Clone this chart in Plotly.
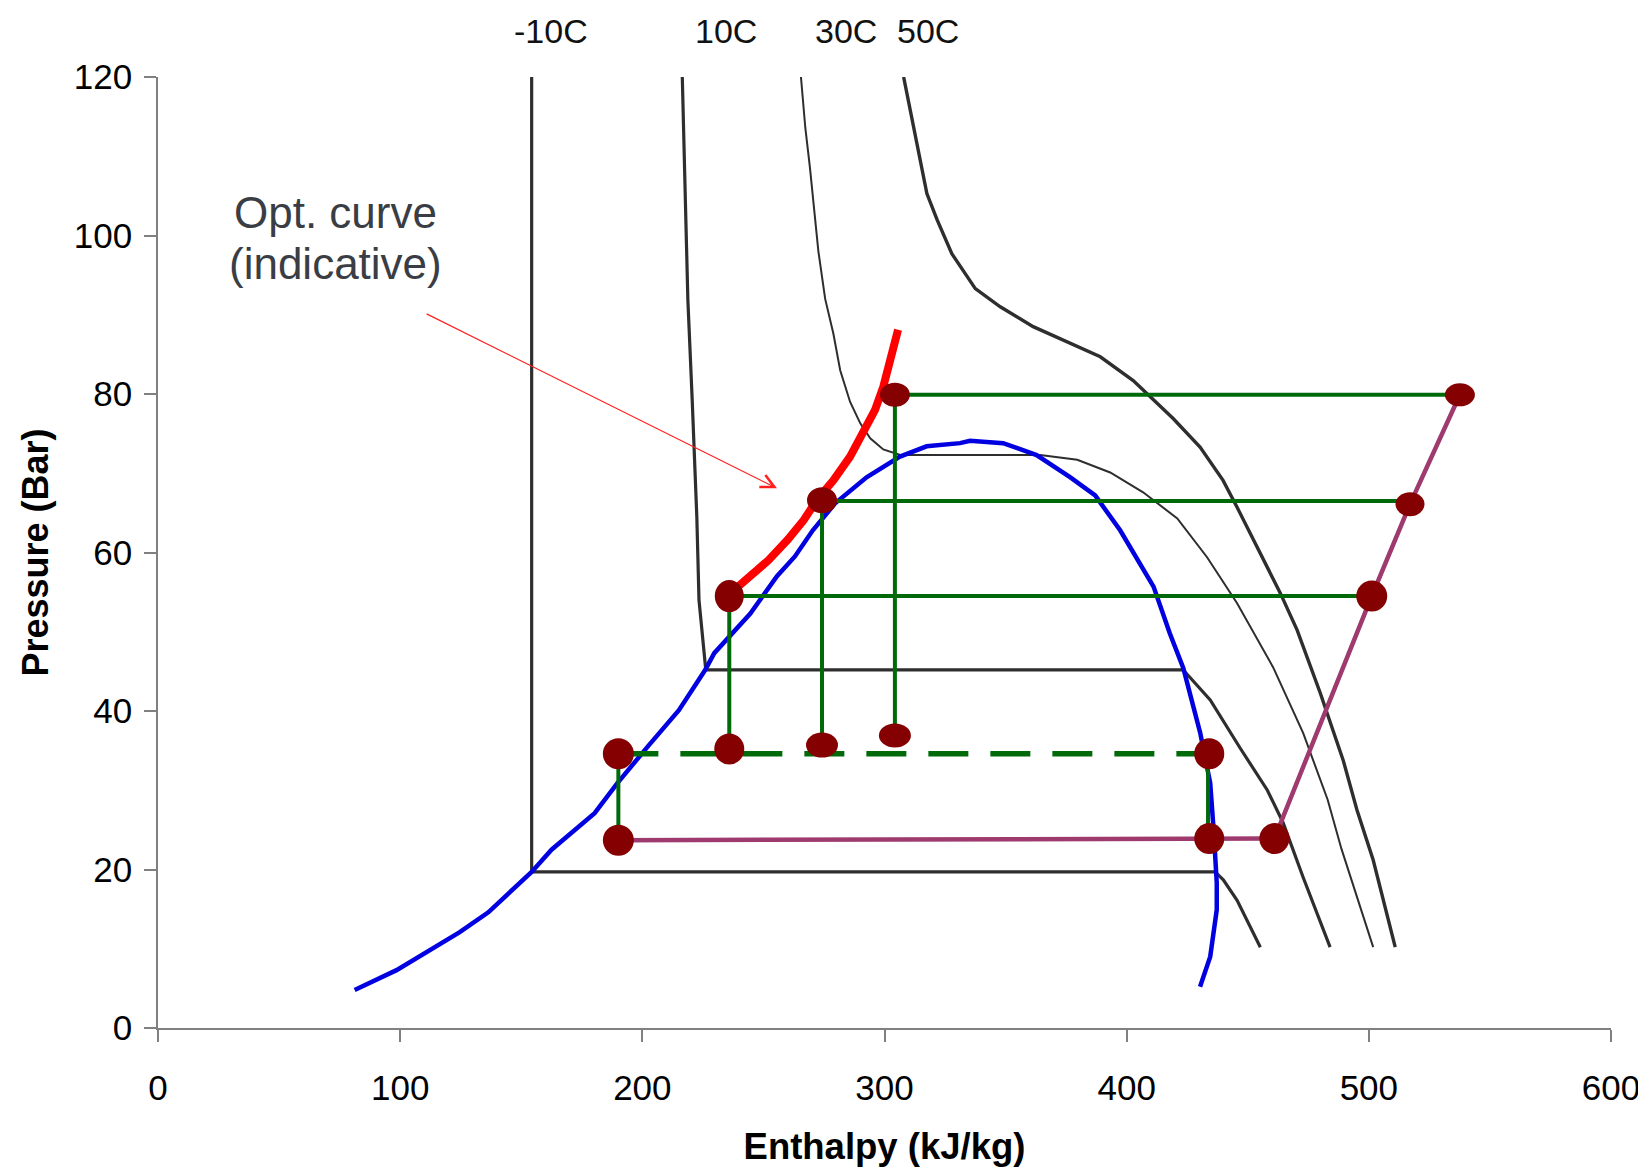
import plotly.graph_objects as go

# ---------------- data (enthalpy kJ/kg, pressure bar) ----------------
# isotherms
h_m10 = [154.3, 154.3, 436.5, 439.9, 445.6, 451.0, 453.0, 455.2]
p_m10 = [120.0, 19.7, 19.7, 18.7, 16.1, 12.7, 11.5, 10.2]

h_10 = [216.5, 218.8, 220.6, 222.5, 223.4, 226.2, 423.3, 434.5, 446.9, 458.1, 464.6, 472.9, 484.0]
p_10 = [120.0, 91.9, 79.2, 64.5, 54.0, 45.2, 45.2, 41.4, 35.3, 30.0, 25.9, 19.0, 10.2]

h_30 = [265.5, 267.3, 269.2, 272.7, 275.5, 278.9, 281.7, 285.8, 290.0, 294.1, 299.5, 306.5,
        364.3, 379.6, 393.2, 406.8, 420.9, 433.2, 445.6, 460.5, 472.9, 483.0, 488.7, 501.8]
p_30 = [120.0, 113.6, 108.6, 98.0, 92.0, 87.6, 83.0, 79.0, 76.3, 74.4, 73.0, 72.3,
        72.3, 71.7, 70.1, 67.6, 64.3, 59.4, 53.6, 45.5, 37.2, 28.8, 22.6, 10.2]

h_50 = [307.9, 312.0, 317.5, 321.7, 327.8, 337.5, 347.8, 361.4, 376.7, 389.1, 402.7, 419.2,
        430.3, 439.8, 445.6, 453.9, 463.4, 470.4, 479.9, 489.4, 495.1, 501.8, 510.9]
p_50 = [120.0, 113.7, 105.3, 102.0, 97.7, 93.3, 91.0, 88.5, 86.4, 84.7, 81.7, 76.9,
        73.3, 69.1, 65.7, 60.7, 54.9, 50.2, 42.3, 33.8, 27.5, 21.2, 10.2]

iso_labels = ["-10C", "10C", "30C", "50C"]
iso_label_h = [162.3, 234.5, 284.1, 318.0]

# saturation dome
h_sat = [81.2, 98.5, 124.6, 136.4, 154.3, 162.5, 180.3, 189.7, 202.2, 215.1, 226.0, 229.7,
         244.6, 255.6, 263.0, 270.4, 279.6, 292.6, 306.4, 317.4, 331.2, 335.3, 349.0, 362.8,
         376.6, 387.0, 397.3, 411.1, 417.8, 423.4, 430.4, 434.5, 436.0, 437.2, 437.2, 434.5, 430.3]
p_sat = [4.8, 7.3, 12.1, 14.6, 19.7, 22.5, 27.1, 30.9, 35.5, 40.1, 45.2, 47.3,
         52.3, 57.0, 59.5, 62.8, 66.2, 69.5, 72.1, 73.4, 73.8, 74.1, 73.8, 72.3,
         69.5, 67.2, 62.8, 55.7, 49.8, 45.4, 37.2, 30.9, 24.6, 18.3, 14.9, 9.0, 5.2]

# optimum high-pressure curve (indicative)
h_opt = [235.4, 244.0, 252.0, 260.0, 266.7, 272.0, 278.9, 285.8, 291.2, 296.1, 299.5, 302.3, 305.6]
p_opt = [54.6, 56.8, 59.0, 61.6, 64.1, 66.6, 69.1, 72.1, 75.0, 78.0, 80.9, 84.3, 88.1]

# cycles
p_gc = [79.9, 66.5, 54.5]            # gas-cooler pressures
h_gc_in = [537.6, 517.0, 501.2]      # compressor discharge
h_gc_out = [304.3, 274.2, 235.9]     # gas-cooler outlet
p_exp_end = [36.9, 35.7, 35.2]       # end of first expansion
p_mid = 34.6                         # intermediate (receiver) pressure
h_liq, h_vap = 190.1, 434.1          # receiver liquid / vapour
p_evap_l, p_evap_r = 23.7, 23.9      # evaporating pressure
h_suction = 461.0
h_comp = [461.0, 501.2, 517.0, 537.6]
p_comp = [23.9, 54.5, 66.1, 79.9]

# state points
dots_h = [304.3, 537.6, 274.2, 517.0, 235.9, 501.2, 190.1, 235.9, 274.2, 304.3, 434.1, 190.1, 434.1, 461.0]
dots_p = [79.9, 79.9, 66.6, 66.1, 54.5, 54.5, 34.6, 35.2, 35.7, 36.9, 34.6, 23.7, 23.9, 23.9]

# annotation text
note_lines = ["Opt. curve", "(indicative)"]
note_h = 73.5
note_p = [102.9, 96.5]
arrow_tail = (110.3, 90.2)
arrow_tip = (255.6, 68.1)

# ---------------- styles ----------------
dot_w = [30, 30, 30, 29, 29, 31, 31, 30, 32, 32, 30, 31, 30, 30]
dot_hgt = [24, 23, 26, 24, 32, 31, 31, 31, 25, 24, 31, 31, 31, 31]
ISO = "#2E2E2E"
GREEN = "#006A0A"
PURPLE = "#9E3A6E"
BLUE = "#0000E0"
RED = "#FF0000"
DOT = "#850000"
AX = "#808080"
FONT = "Liberation Sans, Arial, Helvetica, sans-serif"

fig = go.Figure()


def add_line(x, y, color, width, dash=None):
    fig.add_trace(go.Scatter(x=x, y=y, mode="lines",
                             line=dict(color=color, width=width, dash=dash),
                             hoverinfo="skip", showlegend=False))


# isotherms
add_line(h_m10, p_m10, ISO, 3.2)
add_line(h_10, p_10, ISO, 3.2)
add_line(h_30, p_30, ISO, 2.0)
add_line(h_50, p_50, ISO, 3.4)

# saturation dome
add_line(h_sat, p_sat, BLUE, 4.5)

# green gas cooler lines and expansion lines
gx, gy = [], []
for hin, hout, p in zip(h_gc_in, h_gc_out, p_gc):
    gx += [hout, hin, None]
    gy += [p, p, None]
for hout, p, pe in zip(h_gc_out, p_gc, p_exp_end):
    gx += [hout, hout, None]
    gy += [p, pe, None]
gx += [h_liq, h_liq, None, h_vap - 0.5, h_vap - 0.5]
gy += [p_mid, p_evap_l, None, p_mid, p_evap_r]
add_line(gx, gy, GREEN, 4)

# dashed intermediate pressure line
add_line([h_liq, h_vap], [p_mid, p_mid], GREEN, 5.5, dash="40px,22px")

# evaporator + compression
add_line([h_liq, h_vap, h_suction], [p_evap_l, p_evap_r, p_evap_r], PURPLE, 4.5)
add_line(h_comp, p_comp, PURPLE, 4.5)

# optimum curve
add_line(h_opt, p_opt, RED, 8)

# state points as ellipses anchored on data coordinates
for hx, py, w, hh in zip(dots_h, dots_p, dot_w, dot_hgt):
    fig.add_shape(type="circle", xref="x", yref="y",
                  xsizemode="pixel", ysizemode="pixel",
                  xanchor=hx, yanchor=py,
                  x0=-w / 2, x1=w / 2, y0=-hh / 2, y1=hh / 2,
                  fillcolor=DOT, line=dict(width=0), layer="above")

# isotherm labels above the plot
for txt, hx in zip(iso_labels, iso_label_h):
    fig.add_annotation(x=hx, y=1.048, xref="x", yref="paper", text=txt,
                       showarrow=False, font=dict(family=FONT, size=34, color="#111111"),
                       xanchor="center", yanchor="middle")

# opt curve annotation
for txt, py in zip(note_lines, note_p):
    fig.add_annotation(x=note_h, y=py, xref="x", yref="y",
                       text=txt, showarrow=False,
                       font=dict(family=FONT, size=44, color="#3A3D44"),
                       xanchor="center", yanchor="middle")
fig.add_annotation(x=arrow_tip[0], y=arrow_tip[1], xref="x", yref="y",
                   ax=arrow_tail[0], ay=arrow_tail[1], axref="x", ayref="y",
                   text="", showarrow=True, arrowhead=5, arrowsize=2.2,
                   arrowwidth=1.2, arrowcolor="#FF2020", standoff=0, startstandoff=0)

fig.update_layout(
    width=1638, height=1159,
    margin=dict(l=150, r=35, t=69, b=139),
    plot_bgcolor="white", paper_bgcolor="white",
    showlegend=False,
    font=dict(family=FONT, size=35, color="black"),
)
fig.update_xaxes(range=[0, 600], tick0=0, dtick=100, showgrid=False, zeroline=False,
                 automargin=False,
                 showline=True, linecolor=AX, linewidth=1.5,
                 ticks="outside", ticklen=12, tickwidth=1.5, tickcolor=AX,
                 tickfont=dict(family=FONT, size=35, color="black"),
                 ticklabelstandoff=16,
                 title=dict(text="Enthalpy (kJ/kg)", standoff=34,
                            font=dict(family=FONT, size=36.5, color="black", weight="bold")))
fig.update_yaxes(range=[0, 120], tick0=0, dtick=20, showgrid=False, zeroline=False,
                 automargin=False,
                 showline=True, linecolor=AX, linewidth=1.5,
                 ticks="outside", ticklen=12, tickwidth=1.5, tickcolor=AX,
                 tickfont=dict(family=FONT, size=35, color="black"),
                 ticklabelstandoff=5,
                 title=dict(text="Pressure (Bar)", standoff=14,
                            font=dict(family=FONT, size=36, color="black", weight="bold")))

fig.write_html("out.html")
